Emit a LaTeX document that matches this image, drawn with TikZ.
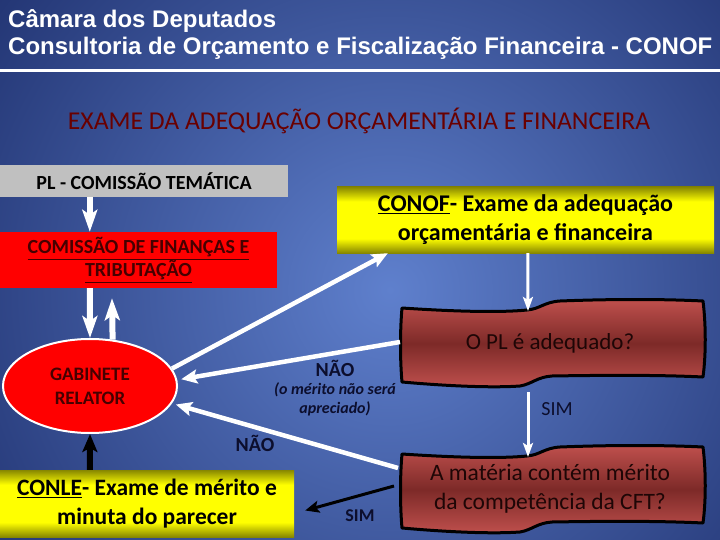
\documentclass[tikz,border=0pt]{standalone}
\usepackage{fontspec}
\setmainfont{Carlito}
\newfontfamily\headfont{Liberation Sans}
\usetikzlibrary{arrows.meta,shapes.geometric,calc}

\definecolor{bgin}{RGB}{95,128,205}
\definecolor{bgout}{RGB}{24,40,100}
\definecolor{subred}{RGB}{105,0,0}
\definecolor{boxgray}{RGB}{192,192,192}
\definecolor{txtred}{RGB}{70,0,0}
\definecolor{olivey}{RGB}{135,135,0}
\definecolor{tapelight}{RGB}{192,80,77}
\definecolor{tapedark}{RGB}{125,42,40}
\definecolor{tapetext}{RGB}{30,6,6}
\definecolor{navy}{RGB}{12,14,45}

\pgfdeclareradialshading{slidebg}{\pgfpoint{0bp}{0bp}}{color(0bp)=(bgin); color(25bp)=(bgout); color(50bp)=(bgout)}
\pgfdeclareverticalshading{yelshade}{100bp}{color(0bp)=(olivey); color(25bp)=(olivey); color(36bp)=(yellow); color(64bp)=(yellow); color(75bp)=(olivey); color(100bp)=(olivey)}
\pgfdeclareverticalshading{tapeshade}{100bp}{color(0bp)=(tapelight); color(25bp)=(tapelight); color(50bp)=(tapedark); color(75bp)=(tapelight); color(100bp)=(tapelight)}

\newcommand{\tapepath}{(0,8) .. controls (45,11) and (95,13) .. (125,10) .. controls (138,9) and (142,2) .. (158,1) .. controls (210,-1) and (260,-1) .. (301,1) .. controls (304,25) and (304,55) .. (301,77) .. controls (260,75) and (210,75) .. (150,76) .. controls (135,77) and (130,84) .. (118,86) .. controls (90,88) and (45,86) .. (0,82) .. controls (-2,60) and (-2,30) .. (0,8) -- cycle}

\newcommand{\tapebox}[2]{%
  \begin{scope}[shift={#2}]
    \shade[shading=tapeshade] \tapepath;
    \draw[line width=3pt, line join=round] \tapepath;
    \coordinate (#1-c) at (148,43);
    \coordinate (#1-top) at (126,11);
    \coordinate (#1-bot) at (126,92);
    \coordinate (#1-w) at (-2,42);
    \coordinate (#1-wn) at (-4,22);
    \coordinate (#1-ws) at (-8,40);
  \end{scope}}

\begin{document}
\begin{tikzpicture}[x=1pt, y=-1pt,
    titletext/.style={text=white, inner sep=0pt, anchor=base west, font=\headfont\bfseries\fontsize{24}{27}\selectfont},
    redbox/.style={fill=red, inner sep=0pt, align=center, text=txtred, font=\bfseries\fontsize{20}{23}\selectfont},
    yelbox/.style={shade, shading=yelshade, inner sep=0pt, align=center, font=\bfseries\fontsize{24}{29}\selectfont},
    dectext/.style={inner sep=0pt, align=center, text=tapetext, font=\fontsize{23}{29}\selectfont},
    lbl/.style={text=navy, inner sep=0pt, align=center},
    wblock/.style={white, line width=6pt, -{Stealth[length=22pt, width=15pt, inset=5pt]}},
    wline/.style={white, line width=4.5pt, -{Stealth[length=16pt, width=14pt, inset=3pt]}},
    wthin/.style={white, line width=3pt, -{Stealth[length=14pt, width=10pt, inset=3pt]}},
    bblock/.style={black, line width=6pt, -{Stealth[length=18pt, width=15pt, inset=4pt]}},
    bline/.style={black, line width=3pt, -{Stealth[length=14pt, width=12pt, inset=3pt]}}]
    \useasboundingbox (0,0) rectangle (720,540);

    \begin{scope}
        \clip (0,0) rectangle (720,540);
        \shade[shading=slidebg] (-190,-290) rectangle (970,870);
    \end{scope}

    \node[titletext] (camara) at (8,28) {Câmara dos Deputados};
    \node[titletext] (consult) at (8,55) {Consultoria de Orçamento e Fiscalização Financeira - CONOF};
    \draw[white, line width=3pt] (0,71) -- (720,71);

    \node[anchor=base, inner sep=0pt, text=subred, font=\fontsize{25.7}{30}\selectfont] (exame) at (359,130) {EXAME DA ADEQUAÇÃO ORÇAMENTÁRIA E FINANCEIRA};

    \node[fill=boxgray, inner sep=0pt, minimum width=288pt, minimum height=32pt, font=\bfseries\fontsize{20}{24}\selectfont] (pl) at (144,181) {PL - COMISSÃO TEMÁTICA};
    \node[redbox, minimum width=277pt, minimum height=56pt] (cft) at (138.5,260) {\underline{COMISSÃO DE FINANÇAS E}\\\underline{TRIBUTAÇÃO}};
    \node[redbox, ellipse, draw=white, line width=2pt, minimum width=174pt, minimum height=94pt, font=\bfseries\fontsize{19}{24}\selectfont] (gab) at (90,386) {GABINETE\\RELATOR};
    \node[yelbox, minimum width=377pt, minimum height=66pt] (conof) at (525.5,220) {\underline{CONOF}- Exame da adequação\\orçamentária e financeira};
    \node[yelbox, minimum width=294pt, minimum height=67pt, font=\bfseries\fontsize{23.5}{29}\selectfont] (conle) at (147,503.5) {\underline{CONLE}- Exame de mérito e\\minuta do parecer};

    \tapebox{dec1}{(402,300)}
    \node[dectext] (adeq) at (dec1-c) {O PL é adequado?};
    \tapebox{dec2}{(402,446)}
    \node[dectext, font=\fontsize{23.5}{29}\selectfont] (merito) at (dec2-c) {A matéria contém mérito\\da competência da CFT?};

    \draw[wblock] ([xshift=90pt]pl.south west) -- ([xshift=90pt]cft.north west);
    \draw[wblock] ([xshift=90pt]cft.south west) -- (gab.north);
    \draw[wblock, shorten >=10pt] (gab.64) -- ([xshift=112pt]cft.south west);
    \draw[wline] (gab.12) -- ([xshift=51pt]conof.south west);
    \draw[wthin] ([xshift=191pt]conof.south west) -- (dec1-top);
    \draw[wthin] (dec1-bot) -- (dec2-top);
    \draw[wline, shorten >=4pt] (dec1-w) -- (gab.4);
    \draw[wline, shorten >=4pt] (dec2-wn) -- (gab.-12);
    \draw[bline] (dec2-ws) -- ([xshift=11pt, yshift=-7pt]conle.east);
    \draw[bblock] ([xshift=90pt]conle.north west) -- (gab.south);

    \node[lbl, font=\fontsize{20}{24}\selectfont] (sim1) at (557,409) {SIM};
    \node[lbl, font=\bfseries\fontsize{20}{24}\selectfont] (nao1) at (335,368) {NÃO};
    \node[lbl, font=\bfseries\itshape\fontsize{16}{19}\selectfont] (naonote) at (335,399) {(o mérito não será\\apreciado)};
    \node[lbl, font=\bfseries\fontsize{20}{24}\selectfont] (nao2) at (255,443) {NÃO};
    \node[lbl, font=\bfseries\fontsize{18}{22}\selectfont] (sim2) at (360,516) {SIM};
\end{tikzpicture}
\end{document}
